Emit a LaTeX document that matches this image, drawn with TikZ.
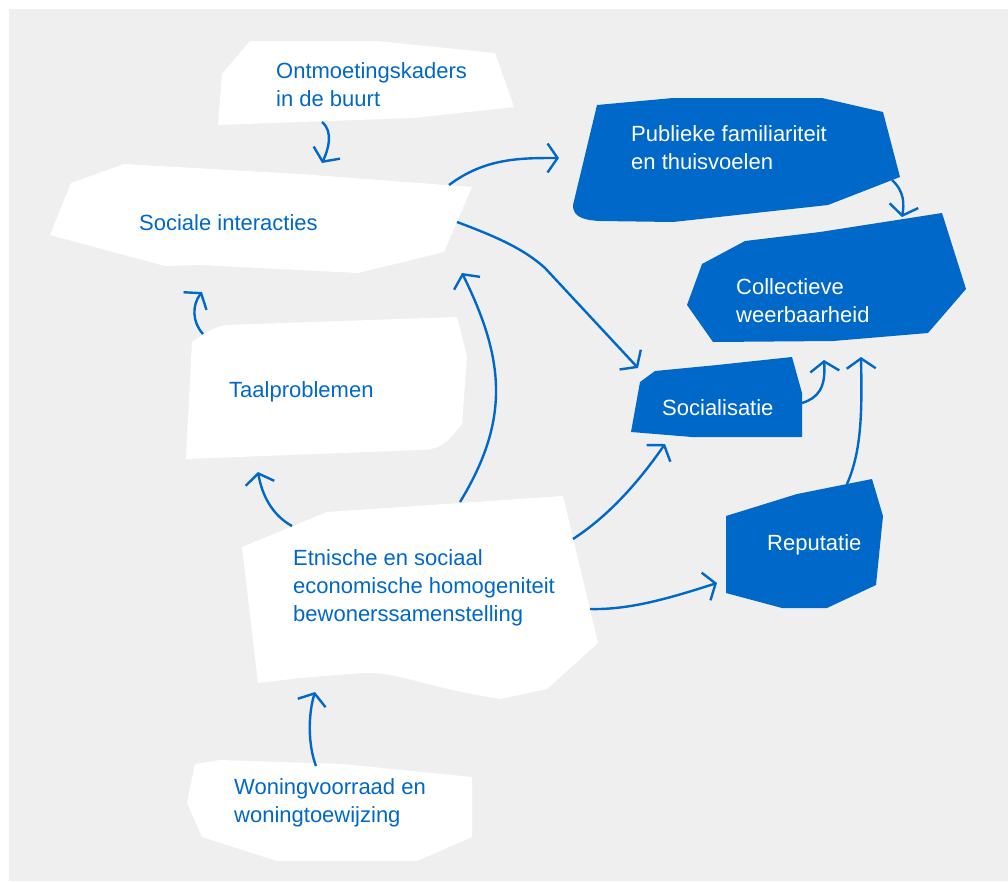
\documentclass[tikz,border=0pt]{standalone}
\usepackage{fontspec}
\setmainfont{Liberation Sans}
\usetikzlibrary{arrows.meta}
\definecolor{bg}{HTML}{EFEFEF}
\definecolor{blu}{HTML}{0068C8}
\begin{document}
\begin{tikzpicture}[x=1pt,y=-1pt,
  lbl/.style={anchor=base west, inner sep=0pt, font=\fontsize{22}{28}\selectfont, align=left, text=blu},
  lblw/.style={lbl, text=white},
  conn/.style={draw=blu, line width=2.4pt, -{Straight Barb[length=10pt,width=29pt]}},
  wbox/.style={fill=white},
  bbox/.style={fill=blu}]
\useasboundingbox (0,0) rectangle (1008,881);
\fill[bg] (9,9) rectangle (1008,881);

% shapes
\fill[wbox] (250,41) -- (377,41) -- (495,53) -- (514,107) -- (413,118) -- (218,125) -- (222,74) -- cycle;
\fill[wbox] (124,164) -- (300,174) -- (472,187) -- (444,252) -- (358,273) -- (200,265) -- (165,266) -- (50,235) -- (71,183) -- cycle;
\fill[bbox] (597,105) -- (673,98) -- (822,98) -- (883,112) -- (900,177) -- (828,205) -- (673,222) -- (600,221) .. controls (578,220) and (573,214) .. (573,205) -- cycle;
\fill[bbox] (745,241) -- (820,232) -- (942,213) -- (966,289) -- (928,333) -- (833,341) -- (713,342) -- (687,305) -- (702,264) -- cycle;
\fill[bbox] (655,371) -- (717,365) -- (792,357) -- (802,393) -- (802,437) -- (692,437) -- (631,432) -- (640,382) -- cycle;
\fill[bbox] (726,516) -- (797,494) -- (872,479) -- (883,516) -- (876,585) -- (827,608) -- (782,608) -- (726,593) -- cycle;
\fill[wbox] (327,512) -- (563,496) -- (598,643) -- (547,689) -- (500,699) .. controls (420,686) and (400,672) .. (363,673) -- (300,678) -- (258,683) -- (242,547) -- cycle;
\fill[wbox] (225,325) -- (457,317) -- (467,356) -- (462,424) .. controls (448,442) and (440,450) .. (420,450) -- (186,459) -- (192,342) .. controls (205,333) and (215,327) .. (225,325) -- cycle;
\fill[wbox] (195,764) -- (220,760) -- (343,764) -- (472,777) -- (472,837) -- (417,861) -- (277,861) -- (202,837) -- (187,803) -- cycle;

% texts (base anchor = baseline of last line)
\node[lbl] (ont) at (276,106) {Ontmoetingskaders\\in de buurt};
\node[lbl] (soc) at (139,230) {Sociale interacties};
\node[lblw] (pub) at (631,169) {Publieke familiariteit\\en thuisvoelen};
\node[lblw] (col) at (736,322) {Collectieve\\weerbaarheid};
\node[lblw] (sos) at (662,415) {Socialisatie};
\node[lblw] (rep) at (767,550) {Reputatie};
\node[lbl] (etn) at (293,621) {Etnische en sociaal\\economische homogeniteit\\bewonerssamenstelling};
\node[lbl] (taal) at (229,397) {Taalproblemen};
\node[lbl] (won) at (234,822) {Woningvoorraad en\\woningtoewijzing};

% connector ends
\coordinate (ontB) at (322,122); \coordinate (socT) at (322,163);
\coordinate (socR) at (449,185); \coordinate (pubL) at (559,158);
\coordinate (socR2) at (457,222); \coordinate (sosT) at (638,368);
\coordinate (pubB) at (892,180); \coordinate (colT) at (902,217);
\coordinate (sosR) at (802,403); \coordinate (colB1) at (824,360);
\coordinate (repT) at (847,484); \coordinate (colB2) at (861,357);
\coordinate (etnR) at (590,609); \coordinate (repL) at (717,583);
\coordinate (etnR2) at (573,539); \coordinate (sosB) at (665,444);
\coordinate (etnT) at (292,526); \coordinate (taalB) at (258,472);
\coordinate (etnT2) at (460,502); \coordinate (socB2) at (462,273);
\coordinate (taalT) at (203,334); \coordinate (socB) at (202,292);
\coordinate (wonT) at (316,766); \coordinate (etnB) at (315,692);

\draw[conn] (ontB) .. controls (334,132) and (328,150) .. (socT);
\draw[conn] (socR) .. controls (485,158) and (520,158) .. (pubL);
\draw[conn] (socR2) .. controls (500,238) and (525,250) .. (545,268) -- (sosT);
\draw[conn] (pubB) .. controls (905,192) and (904,205) .. (colT);
\draw[conn] (sosR) .. controls (818,398) and (826,388) .. (colB1);
\draw[conn] (repT) .. controls (862,450) and (862,410) .. (colB2);
\draw[conn] (etnR) .. controls (630,610) and (670,598) .. (repL);
\draw[conn] (etnR2) .. controls (610,515) and (640,480) .. (sosB);
\draw[conn] (etnT) .. controls (272,515) and (262,495) .. (taalB);
\draw[conn] (etnT2) .. controls (510,420) and (505,360) .. (socB2);
\draw[conn] (taalT) .. controls (192,322) and (192,305) .. (socB);
\draw[conn] (wonT) .. controls (308,745) and (308,715) .. (etnB);
\end{tikzpicture}
\end{document}
